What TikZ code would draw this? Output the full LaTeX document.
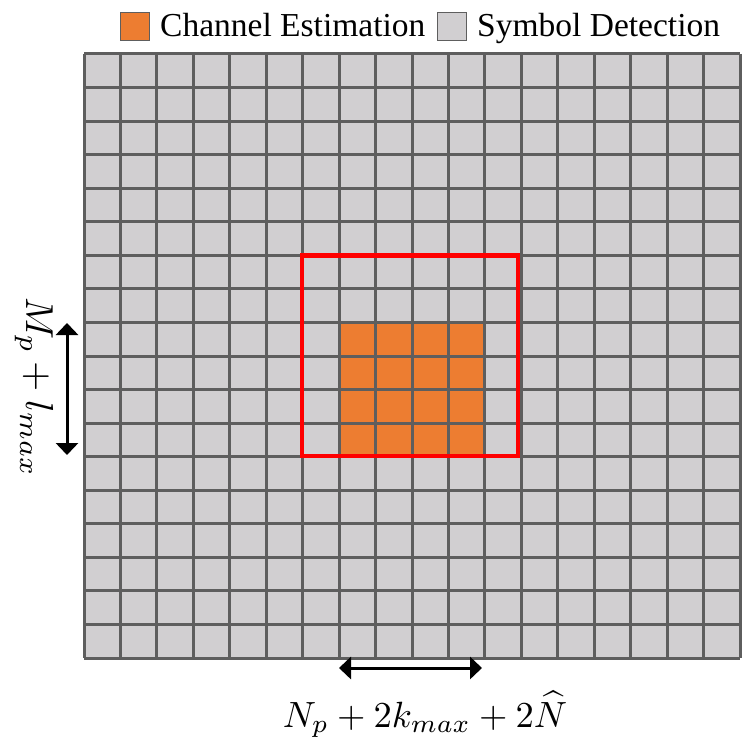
\documentclass[tikz,border=0pt]{standalone}
\usepackage{graphicx}
\usepackage{fontspec}
\setmainfont{Liberation Serif}
\usetikzlibrary{arrows.meta}
\definecolor{cellgray}{HTML}{D1CFD1}
\definecolor{gridgray}{HTML}{5E5E5E}
\definecolor{orangefill}{HTML}{ED7D31}
\definecolor{redbox}{HTML}{FF0000}
\begin{document}
\begin{tikzpicture}[x=1pt,y=-1pt,
  gridline/.style={draw=gridgray,line width=3pt},
  redline/.style={draw=redbox,line width=4.5pt},
  legendbox/.style={draw=gridgray,line width=1pt},
  dimarrow/.style={draw=black,line width=3pt,{Triangle[width=22pt,length=12pt]}-{Triangle[width=22pt,length=12pt]}},
  legendtext/.style={anchor=base west,inner sep=0pt,font=\fontsize{33.5}{38}\selectfont},
  mathlabel/.style={inner sep=0pt}]
\useasboundingbox (0,0) rectangle (747,751);
\def\cw{36.444}
\def\ch{33.556}
% cells
\fill[cellgray] (84,54) rectangle (740,658);
\fill[orangefill] ({84+7*\cw},{54+8*\ch}) rectangle ({84+11*\cw},{54+12*\ch});
\foreach \i in {0,...,18} \draw[gridline] ({84+\i*\cw},54) -- ({84+\i*\cw},658);
\foreach \j in {0,...,18} \draw[gridline] (84,{54+\j*\ch}) -- (740,{54+\j*\ch});
% red window
\draw[redline] (302,255.5) rectangle (518,456);
% legend
\filldraw[legendbox,fill=orangefill] (120,13) rectangle (149,41);
\node[legendtext] (lce) at (160,37) {Channel Estimation};
\filldraw[legendbox,fill=cellgray] (437,13) rectangle (466,41);
\node[legendtext] (lsd) at (477,37) {Symbol Detection};
% dimension arrows
\coordinate (vtop) at (67,323);
\coordinate (vbot) at (67,455);
\draw[dimarrow] (vtop) -- (vbot);
\coordinate (hleft) at (339,668);
\coordinate (hright) at (482,668);
\draw[dimarrow] (hleft) -- (hright);
% labels
\node[mathlabel,rotate=-90] (vlabel) at (34,387) {\scalebox{3.9}{$M_p + l_{max}$}};
\node[mathlabel,anchor=base] (hlabel) at (425,727) {\scalebox{3.65}{$N_p + 2k_{max} + 2\widehat{N}$}};
\end{tikzpicture}
\end{document}
